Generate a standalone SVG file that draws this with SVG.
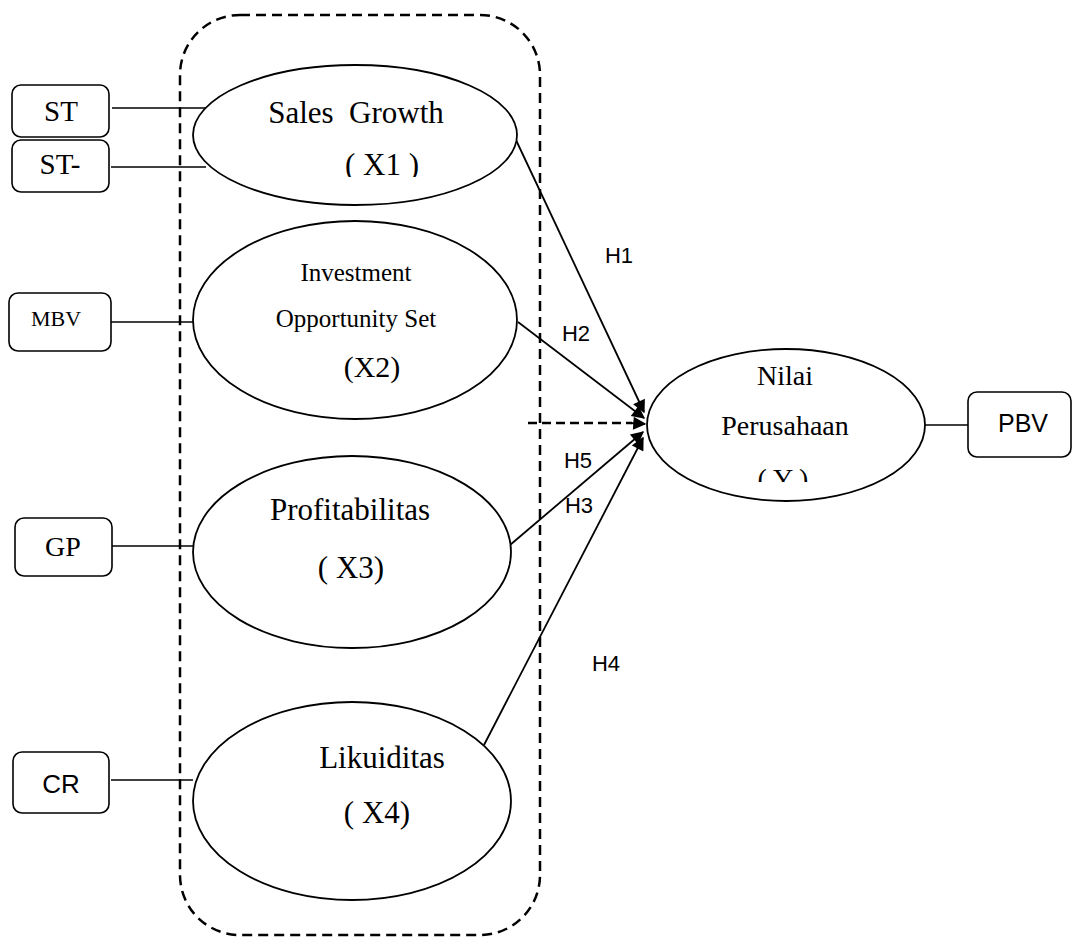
<svg xmlns="http://www.w3.org/2000/svg" width="1074" height="938" viewBox="0 0 1074 938">
<style>
.ell{fill:#fff;stroke:#000;stroke-width:1.8}
.box{fill:#fff;stroke:#000;stroke-width:1.6}
.ln{stroke:#000;stroke-width:1.6;fill:none}
.arr{stroke:#000;stroke-width:1.8;fill:none;marker-end:url(#ahb)}
.serif{font-family:"Liberation Serif","Times New Roman",serif;fill:#000;text-anchor:middle}
.sans{font-family:"Liberation Sans",Arial,sans-serif;fill:#000;text-anchor:middle}
</style>
<defs>
<marker id="ahb" viewBox="0 0 10 10" refX="9" refY="5" markerWidth="15" markerHeight="13" markerUnits="userSpaceOnUse" orient="auto">
<path d="M0,0 L10,5 L0,10 z" fill="#000"/>
</marker>
<clipPath id="c1"><rect x="300" y="130" width="150" height="47"/></clipPath>
<clipPath id="cy"><rect x="700" y="440" width="170" height="42"/></clipPath>
</defs>

<rect x="180" y="15" width="360" height="920" rx="60" ry="60" fill="none" stroke="#000" stroke-width="2.5" stroke-dasharray="10,6"/>

<g id="connectors">
<line class="ln" x1="112" y1="108" x2="206" y2="108"/>
<line class="ln" x1="111" y1="167" x2="206" y2="167"/>
<line class="ln" x1="111" y1="322" x2="193" y2="322"/>
<line class="ln" x1="112" y1="546" x2="193" y2="546"/>
<line class="ln" x1="111" y1="780" x2="193" y2="780"/>
<line class="ln" x1="925" y1="425" x2="968" y2="425"/>
<line x1="528" y1="423" x2="632" y2="423" stroke="#000" stroke-width="2.4" stroke-dasharray="9,5"/>
<line x1="630" y1="423" x2="645" y2="424" stroke="#000" stroke-width="2" marker-end="url(#ahb)"/>
<line class="arr" x1="516" y1="140" x2="644" y2="412"/>
<line class="arr" x1="518" y1="322" x2="644" y2="418"/>
<line class="arr" x1="510" y1="545" x2="643" y2="432"/>
<line class="arr" x1="484" y1="745" x2="643" y2="438"/>
<text class="sans" x="619" y="263" font-size="22">H1</text>
<text class="sans" x="576" y="341" font-size="22">H2</text>
<text class="sans" x="578" y="468" font-size="22">H5</text>
<text class="sans" x="579" y="513" font-size="22">H3</text>
<text class="sans" x="606" y="671" font-size="22">H4</text>
</g>

<g id="ST">
<rect class="box" x="12" y="85" width="97" height="52" rx="9"/>
<text class="serif" x="61" y="121" font-size="29">ST</text>
</g>
<g id="ST-">
<rect class="box" x="12" y="140" width="97" height="52" rx="9"/>
<text class="serif" x="60" y="174" font-size="29">ST-</text>
</g>
<g id="MBV">
<rect class="box" x="9" y="293" width="102" height="58" rx="9"/>
<text class="serif" x="56" y="326" font-size="22">MBV</text>
</g>
<g id="GP">
<rect class="box" x="15" y="518" width="97" height="58" rx="9"/>
<text class="serif" x="63" y="556" font-size="28">GP</text>
</g>
<g id="CR">
<rect class="box" x="13" y="752" width="96" height="61" rx="9"/>
<text class="sans" x="61" y="793" font-size="26">CR</text>
</g>
<g id="PBV">
<rect class="box" x="968" y="392" width="103" height="65" rx="9"/>
<text class="sans" x="1023" y="432" font-size="25">PBV</text>
</g>

<g id="X1">
<ellipse class="ell" cx="355" cy="135" rx="162" ry="70"/>
<text class="serif" x="356" y="123" font-size="31" xml:space="preserve">Sales  Growth</text>
<text class="serif" x="382" y="175" font-size="31" clip-path="url(#c1)">( X1 )</text>
</g>
<g id="X2">
<ellipse class="ell" cx="355" cy="320" rx="162" ry="99"/>
<text class="serif" x="356" y="281" font-size="25">Investment</text>
<text class="serif" x="356" y="327" font-size="25">Opportunity Set</text>
<text class="serif" x="372" y="377" font-size="30">(X2)</text>
</g>
<g id="X3">
<ellipse class="ell" cx="352" cy="552" rx="159" ry="96"/>
<text class="serif" x="350" y="520" font-size="31">Profitabilitas</text>
<text class="serif" x="351" y="578" font-size="31">( X3)</text>
</g>
<g id="X4">
<ellipse class="ell" cx="352" cy="801" rx="159" ry="99"/>
<text class="serif" x="382" y="768" font-size="31">Likuiditas</text>
<text class="serif" x="377" y="823" font-size="31">( X4)</text>
</g>
<g id="Y">
<ellipse class="ell" cx="786" cy="425" rx="139" ry="76"/>
<text class="serif" x="785" y="385" font-size="28">Nilai</text>
<text class="serif" x="785" y="435" font-size="28">Perusahaan</text>
<text class="serif" x="783" y="488" font-size="28" clip-path="url(#cy)">( Y )</text>
</g>
</svg>
